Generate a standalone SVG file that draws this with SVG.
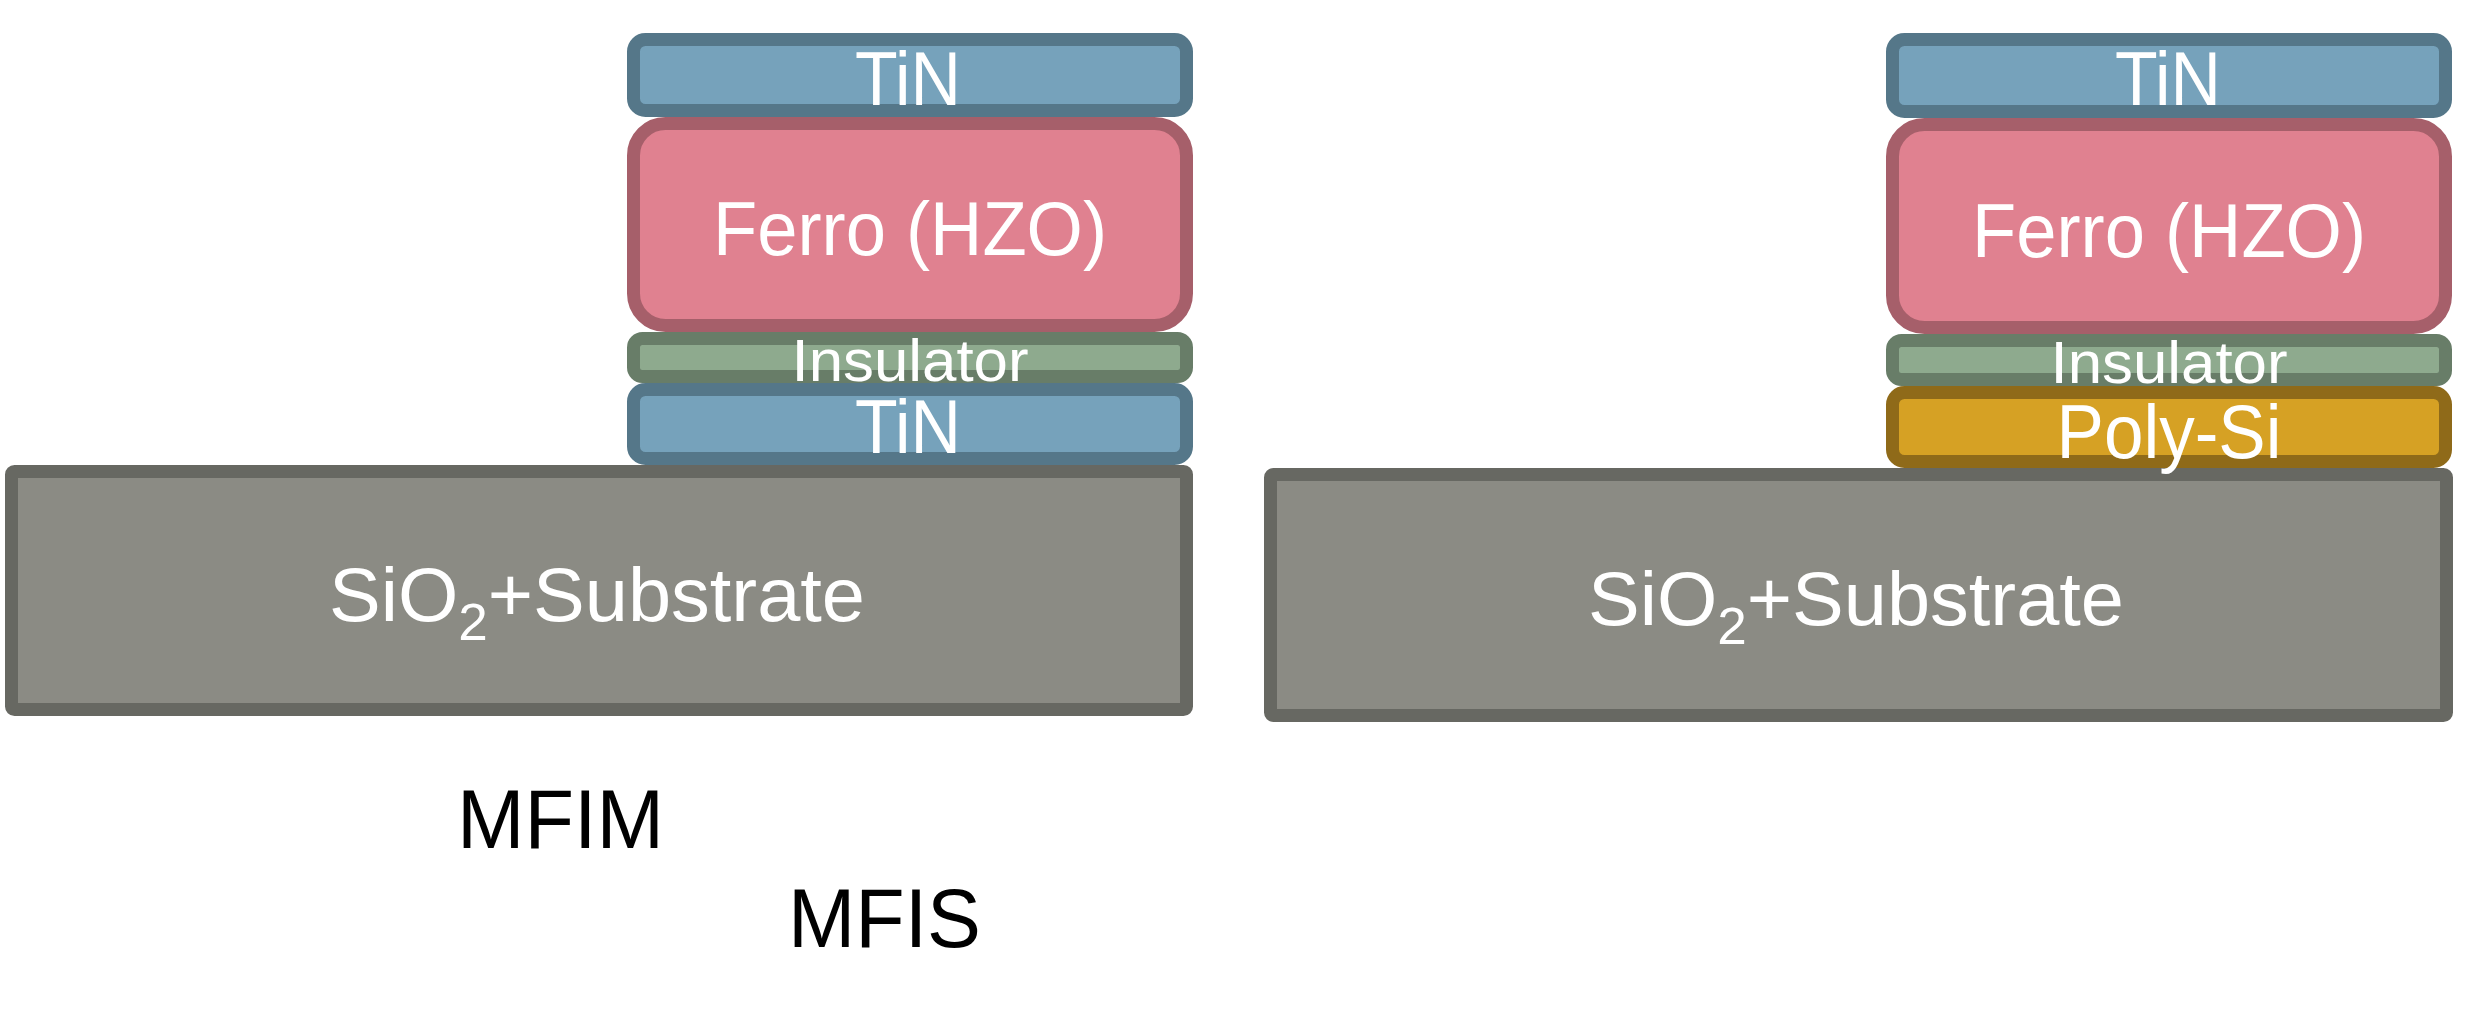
<svg xmlns="http://www.w3.org/2000/svg" width="2480" height="1016" viewBox="0 0 2480 1016">
<style>
.tin{fill:#76A2BB;stroke:#557789;stroke-width:13}
.fe{fill:#E08190;stroke:#A65F6A;stroke-width:13}
.ins{fill:#8EAA8E;stroke:#687D68;stroke-width:13}
.poly{fill:#D6A124;stroke:#8F6A19;stroke-width:13}
.sub{fill:#8B8B84;stroke:#676862;stroke-width:13}
.lbl{fill:#FFFFFF;font-family:"Liberation Sans",Arial,sans-serif;text-anchor:middle}
.cap{fill:#000000;font-family:"Liberation Sans",Arial,sans-serif;font-size:83px}
</style>
<rect width="2480" height="1016" fill="#FFFFFF"/>
<g id="mfim">
<g id="mfim-substrate"><rect class="sub" x="11.5" y="471.5" width="1175" height="238" rx="3"/>
<text class="lbl" x="597" y="621" font-size="76" textLength="536" lengthAdjust="spacingAndGlyphs">SiO<tspan font-size="52" dy="19">2</tspan><tspan dy="-19">+Substrate</tspan></text></g>
<g id="mfim-tin-bottom"><rect class="tin" x="633.5" y="389.5" width="553" height="69" rx="12"/>
<text class="lbl" x="908" y="453" font-size="76" textLength="106" lengthAdjust="spacingAndGlyphs">TiN</text></g>
<g id="mfim-insulator"><rect class="ins" x="633.5" y="338.5" width="553" height="38" rx="9"/>
<text class="lbl" x="910" y="381" font-size="60" textLength="237" lengthAdjust="spacingAndGlyphs">Insulator</text></g>
<g id="mfim-ferro"><rect class="fe" x="633.5" y="123.5" width="553" height="202" rx="32"/>
<text class="lbl" x="910" y="255" font-size="76" textLength="394" lengthAdjust="spacingAndGlyphs">Ferro (HZO)</text></g>
<g id="mfim-tin-top"><rect class="tin" x="633.5" y="39.5" width="553" height="71" rx="12"/>
<text class="lbl" x="908" y="105" font-size="76" textLength="106" lengthAdjust="spacingAndGlyphs">TiN</text></g>
</g>
<g id="mfis">
<g id="mfis-substrate"><rect class="sub" x="1270.5" y="474.5" width="1176" height="241" rx="3"/>
<text class="lbl" x="1856" y="625" font-size="76" textLength="536" lengthAdjust="spacingAndGlyphs">SiO<tspan font-size="52" dy="19">2</tspan><tspan dy="-19">+Substrate</tspan></text></g>
<g id="mfis-polysi"><rect class="poly" x="1892.5" y="392.5" width="553" height="69" rx="12"/>
<text class="lbl" x="2169" y="458" font-size="76" textLength="225" lengthAdjust="spacingAndGlyphs">Poly-Si</text></g>
<g id="mfis-insulator"><rect class="ins" x="1892.5" y="340.5" width="553" height="39" rx="9"/>
<text class="lbl" x="2169" y="383" font-size="60" textLength="237" lengthAdjust="spacingAndGlyphs">Insulator</text></g>
<g id="mfis-ferro"><rect class="fe" x="1892.5" y="124.5" width="553" height="203" rx="32"/>
<text class="lbl" x="2169" y="257" font-size="76" textLength="394" lengthAdjust="spacingAndGlyphs">Ferro (HZO)</text></g>
<g id="mfis-tin-top"><rect class="tin" x="1892.5" y="39.5" width="553" height="72" rx="12"/>
<text class="lbl" x="2168" y="105" font-size="76" textLength="106" lengthAdjust="spacingAndGlyphs">TiN</text></g>
</g>
<g id="captions">
<text id="cap-mfim" class="cap" x="457" y="848" textLength="207" lengthAdjust="spacingAndGlyphs">MFIM</text>
<text id="cap-mfis" class="cap" x="788" y="947" textLength="193" lengthAdjust="spacingAndGlyphs">MFIS</text>
</g>
<g id="connectors"/>
</svg>
